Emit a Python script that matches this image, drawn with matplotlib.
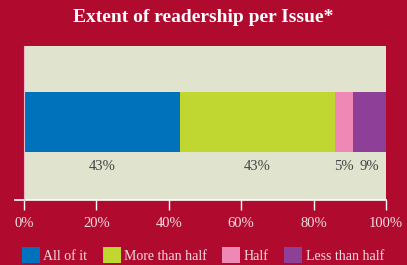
import matplotlib.pyplot as plt
from matplotlib.patches import Patch

categories = ['All of it', 'More than half', 'Half', 'Less than half']
shares = [43, 43, 5, 9]
value_labels = ['43%', '43%', '5%', '9%']
colors = ['#0072bb', '#bfd730', '#f088b6', '#8e3f98']
ticks = [0, 20, 40, 60, 80, 100]

plt.rcParams['font.family'] = ['Liberation Serif', 'DejaVu Serif']

fig = plt.figure(figsize=(4.07, 2.65), dpi=100, facecolor='#b00b2e')
ax = fig.add_axes([24 / 407, 1 - 200 / 265, 362 / 407, 154 / 265])
ax.set_facecolor('#e0e3cd')

left = 0
for val, lab, col in zip(shares, value_labels, colors):
    ax.barh(0.506, val, left=left, height=0.39, color=col, linewidth=0)
    ax.text(left + val / 2, 0.215, lab, ha='center', va='center',
            fontsize=10.5, color='#444444')
    left += val

ax.set_xlim(0, 100)
ax.set_ylim(0, 1)
ax.set_yticks([])
ax.set_xticks(ticks)
ax.set_xticklabels([f'{t}%' for t in ticks])
ax.tick_params(axis='x', colors='white', length=7, width=1, pad=5,
               labelsize=10.5, labelcolor='#f5dde3')
for s in ['top', 'right']:
    ax.spines[s].set_visible(False)
ax.spines['left'].set_color('#f2b6c4')
ax.spines['bottom'].set_visible(False)
# white baseline extends a little left of the panel
ax.plot([-2.8, 100.3], [0, 0], color='white', lw=1.2, clip_on=False,
        solid_capstyle='butt')

fig.text(0.5, 1 - 17 / 265, 'Extent of readership per Issue*', ha='center',
         va='center', fontsize=14, fontweight='bold', color='white')

handles = [Patch(facecolor=c, edgecolor='none') for c in colors]
fig.legend(handles, categories, loc='lower left', bbox_to_anchor=(0.04, -0.012),
           ncol=4, frameon=False, fontsize=10, labelcolor='#f5dde3',
           handlelength=1.3, handleheight=1.3, handletextpad=0.25,
           columnspacing=1.1, borderaxespad=0)

fig.savefig('out.png', dpi=100, facecolor=fig.get_facecolor())
